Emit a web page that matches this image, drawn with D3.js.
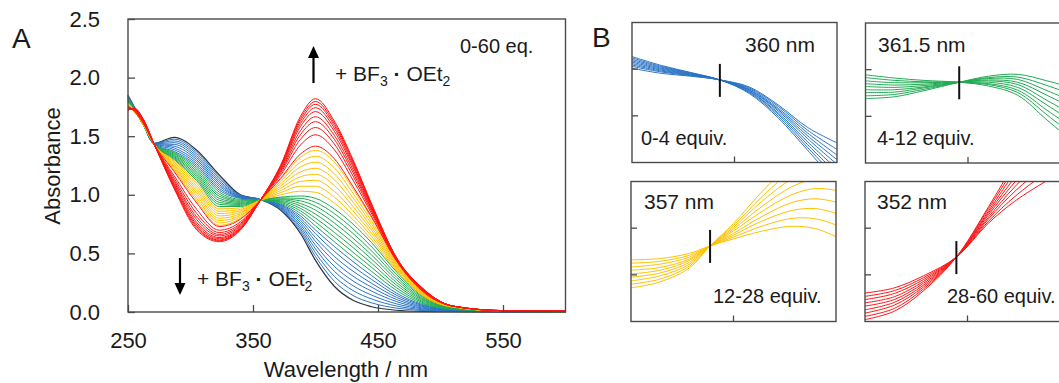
<!DOCTYPE html>
<html>
<head>
<meta charset="utf-8">
<script src="https://cdn.jsdelivr.net/npm/d3@7"></script>
<style>
  body { margin: 0; background: #fff; }
  text { font-family: "Liberation Sans", Arial, sans-serif; fill: #1a1a1a; }
</style>
</head>
<body>
<svg id="chart" width="1059" height="383"></svg>
<script>
// ---- panel A : titration spectra (absorbance vs wavelength) ----
const wavelengths = [250, 255, 262, 271, 287, 305, 323, 340, 356, 372, 388, 400, 415, 430, 445, 465, 485, 510, 550, 600];

// 0 equiv.
const spectrum0 = [1.85, 1.75, 1.61, 1.44, 1.49, 1.38, 1.17, 1.00, 0.96, 0.87, 0.67, 0.44, 0.22, 0.10, 0.045, 0.015, 0.005, 0.002, 0.001, 0];

// 0.5 - 4 equiv.
const blueSpectra = [
  [1.847, 1.749, 1.609, 1.439, 1.475, 1.364, 1.154, 0.996, 0.959, 0.876, 0.689, 0.473, 0.263, 0.141, 0.078, 0.033, 0.013, 0.004, 0.001, 0],
  [1.845, 1.748, 1.608, 1.438, 1.460, 1.348, 1.138, 0.993, 0.959, 0.883, 0.708, 0.505, 0.305, 0.183, 0.111, 0.051, 0.020, 0.006, 0.002, 0],
  [1.843, 1.746, 1.606, 1.436, 1.445, 1.331, 1.121, 0.989, 0.958, 0.889, 0.726, 0.538, 0.348, 0.224, 0.144, 0.069, 0.028, 0.009, 0.002, 0],
  [1.840, 1.745, 1.605, 1.435, 1.430, 1.315, 1.105, 0.985, 0.958, 0.895, 0.745, 0.570, 0.390, 0.265, 0.178, 0.088, 0.035, 0.011, 0.002, 0],
  [1.838, 1.744, 1.604, 1.434, 1.415, 1.299, 1.089, 0.981, 0.957, 0.901, 0.764, 0.603, 0.433, 0.306, 0.211, 0.106, 0.043, 0.013, 0.003, 0],
  [1.835, 1.743, 1.603, 1.433, 1.400, 1.283, 1.073, 0.978, 0.956, 0.908, 0.783, 0.635, 0.475, 0.348, 0.244, 0.124, 0.050, 0.016, 0.003, 0],
  [1.833, 1.741, 1.601, 1.431, 1.385, 1.266, 1.056, 0.974, 0.956, 0.914, 0.801, 0.668, 0.518, 0.389, 0.277, 0.142, 0.058, 0.018, 0.004, 0],
  [1.830, 1.740, 1.600, 1.430, 1.370, 1.250, 1.040, 0.970, 0.955, 0.920, 0.820, 0.700, 0.560, 0.430, 0.310, 0.160, 0.065, 0.020, 0.004, 0]
];

// 5 - 12 equiv.
const greenSpectra = [
  [1.825, 1.738, 1.60, 1.43, 1.361, 1.234, 1.023, 0.961, 0.955, 0.928, 0.841, 0.734, 0.60, 0.47, 0.345, 0.183, 0.074, 0.023, 0.005, 0.000],
  [1.820, 1.735, 1.60, 1.43, 1.353, 1.218, 1.005, 0.953, 0.955, 0.935, 0.863, 0.768, 0.64, 0.51, 0.380, 0.205, 0.084, 0.025, 0.005, 0.001],
  [1.815, 1.733, 1.60, 1.43, 1.344, 1.201, 0.988, 0.944, 0.955, 0.943, 0.884, 0.801, 0.68, 0.55, 0.415, 0.228, 0.093, 0.028, 0.006, 0.001],
  [1.810, 1.730, 1.60, 1.43, 1.335, 1.185, 0.970, 0.935, 0.955, 0.950, 0.905, 0.835, 0.72, 0.59, 0.450, 0.250, 0.103, 0.030, 0.006, 0.002],
  [1.805, 1.728, 1.60, 1.43, 1.326, 1.169, 0.953, 0.926, 0.955, 0.958, 0.926, 0.869, 0.76, 0.63, 0.485, 0.273, 0.112, 0.033, 0.007, 0.002],
  [1.800, 1.725, 1.60, 1.43, 1.318, 1.153, 0.935, 0.918, 0.955, 0.965, 0.948, 0.903, 0.80, 0.67, 0.520, 0.295, 0.121, 0.035, 0.007, 0.002],
  [1.795, 1.723, 1.60, 1.43, 1.309, 1.136, 0.918, 0.909, 0.955, 0.973, 0.969, 0.936, 0.84, 0.71, 0.555, 0.318, 0.131, 0.038, 0.008, 0.003],
  [1.790, 1.720, 1.60, 1.43, 1.300, 1.120, 0.900, 0.900, 0.955, 0.980, 0.990, 0.970, 0.88, 0.75, 0.590, 0.340, 0.140, 0.040, 0.008, 0.003]
];

// 14 - 28 equiv.
const yellowSpectra = [
  [1.786, 1.719, 1.601, 1.43, 1.289, 1.099, 0.880, 0.888, 0.955, 0.999, 1.031, 1.021, 0.93, 0.788, 0.616, 0.351, 0.145, 0.041, 0.008, 0.003],
  [1.783, 1.718, 1.603, 1.43, 1.278, 1.078, 0.860, 0.875, 0.955, 1.018, 1.073, 1.073, 0.98, 0.825, 0.643, 0.363, 0.150, 0.043, 0.009, 0.004],
  [1.779, 1.716, 1.604, 1.43, 1.266, 1.056, 0.840, 0.863, 0.955, 1.036, 1.114, 1.124, 1.03, 0.863, 0.669, 0.374, 0.155, 0.044, 0.009, 0.004],
  [1.775, 1.715, 1.605, 1.43, 1.255, 1.035, 0.820, 0.850, 0.955, 1.055, 1.155, 1.175, 1.08, 0.900, 0.695, 0.385, 0.160, 0.045, 0.009, 0.004],
  [1.771, 1.714, 1.606, 1.43, 1.244, 1.014, 0.800, 0.838, 0.955, 1.074, 1.196, 1.226, 1.13, 0.938, 0.721, 0.396, 0.165, 0.046, 0.009, 0.004],
  [1.768, 1.713, 1.608, 1.43, 1.233, 0.993, 0.780, 0.825, 0.955, 1.093, 1.238, 1.278, 1.18, 0.975, 0.748, 0.408, 0.170, 0.048, 0.010, 0.005],
  [1.764, 1.711, 1.609, 1.43, 1.221, 0.971, 0.760, 0.813, 0.955, 1.111, 1.279, 1.329, 1.23, 1.013, 0.774, 0.419, 0.175, 0.049, 0.010, 0.005],
  [1.760, 1.710, 1.610, 1.43, 1.210, 0.950, 0.740, 0.800, 0.955, 1.130, 1.320, 1.380, 1.28, 1.050, 0.800, 0.430, 0.180, 0.050, 0.010, 0.005]
];

// 28 - 60 equiv.
const redSpectra = [
  [1.757, 1.712, 1.613, 1.43, 1.197, 0.930, 0.729, 0.792, 0.955, 1.140, 1.348, 1.415, 1.308, 1.070, 0.810, 0.432, 0.182, 0.05, 0.010, 0.005],
  [1.748, 1.719, 1.622, 1.43, 1.162, 0.875, 0.698, 0.770, 0.955, 1.166, 1.425, 1.512, 1.385, 1.125, 0.836, 0.439, 0.189, 0.05, 0.011, 0.006],
  [1.742, 1.723, 1.628, 1.43, 1.140, 0.840, 0.678, 0.756, 0.955, 1.183, 1.474, 1.574, 1.434, 1.160, 0.853, 0.443, 0.193, 0.05, 0.011, 0.006],
  [1.738, 1.727, 1.632, 1.43, 1.121, 0.811, 0.662, 0.745, 0.955, 1.197, 1.514, 1.624, 1.474, 1.189, 0.867, 0.447, 0.197, 0.05, 0.011, 0.007],
  [1.734, 1.730, 1.636, 1.43, 1.106, 0.788, 0.649, 0.735, 0.955, 1.208, 1.548, 1.666, 1.508, 1.213, 0.878, 0.450, 0.200, 0.05, 0.011, 0.007],
  [1.730, 1.733, 1.640, 1.43, 1.090, 0.763, 0.635, 0.725, 0.955, 1.220, 1.583, 1.710, 1.543, 1.238, 0.890, 0.453, 0.203, 0.05, 0.012, 0.007],
  [1.727, 1.735, 1.643, 1.43, 1.078, 0.744, 0.625, 0.718, 0.955, 1.229, 1.609, 1.743, 1.569, 1.256, 0.899, 0.455, 0.205, 0.05, 0.012, 0.007],
  [1.724, 1.737, 1.646, 1.43, 1.068, 0.728, 0.615, 0.711, 0.955, 1.237, 1.632, 1.772, 1.592, 1.273, 0.907, 0.457, 0.207, 0.05, 0.012, 0.008],
  [1.722, 1.738, 1.648, 1.43, 1.059, 0.714, 0.608, 0.706, 0.955, 1.243, 1.651, 1.796, 1.611, 1.286, 0.913, 0.458, 0.208, 0.05, 0.012, 0.008],
  [1.720, 1.740, 1.650, 1.43, 1.050, 0.700, 0.600, 0.700, 0.955, 1.250, 1.670, 1.820, 1.630, 1.300, 0.920, 0.460, 0.210, 0.05, 0.012, 0.008]
];

const xTicksA = [250, 350, 450, 550];
const yTicksA = [0, 0.5, 1.0, 1.5, 2.0, 2.5];

// ---- panel B : close-ups of the isosbestic points ----
const insetBlueX = [345, 350, 355, 360, 365, 370, 375, 380];
const insetBlue = [
  [1.027, 1.008, 0.993, 0.977, 0.948, 0.895, 0.826, 0.755],
  [1.024, 1.006, 0.992, 0.977, 0.950, 0.899, 0.832, 0.766],
  [1.021, 1.004, 0.991, 0.977, 0.952, 0.903, 0.838, 0.776],
  [1.018, 1.002, 0.990, 0.977, 0.953, 0.906, 0.844, 0.786],
  [1.015, 1.000, 0.989, 0.977, 0.955, 0.910, 0.851, 0.796],
  [1.012, 0.998, 0.988, 0.977, 0.956, 0.913, 0.857, 0.806],
  [1.009, 0.996, 0.987, 0.977, 0.958, 0.916, 0.863, 0.816],
  [1.006, 0.994, 0.986, 0.977, 0.960, 0.920, 0.869, 0.828],
  [1.002, 0.991, 0.985, 0.977, 0.962, 0.923, 0.875, 0.842]
];

const insetGreenX = [345.5, 350.5, 355.5, 361.5, 366.5, 371.5, 376.5, 380.5];
const insetGreen = [
  [0.989, 0.982, 0.977, 0.973, 0.965, 0.945, 0.892, 0.850],
  [0.983, 0.977, 0.974, 0.973, 0.968, 0.951, 0.903, 0.864],
  [0.976, 0.972, 0.972, 0.973, 0.970, 0.956, 0.913, 0.878],
  [0.970, 0.967, 0.969, 0.973, 0.973, 0.962, 0.924, 0.892],
  [0.964, 0.962, 0.966, 0.973, 0.976, 0.968, 0.934, 0.906],
  [0.957, 0.957, 0.963, 0.973, 0.978, 0.973, 0.945, 0.920],
  [0.951, 0.952, 0.961, 0.973, 0.981, 0.979, 0.955, 0.934],
  [0.944, 0.947, 0.958, 0.973, 0.983, 0.984, 0.966, 0.948],
  [0.938, 0.942, 0.955, 0.973, 0.986, 0.990, 0.976, 0.962]
];

const insetYellowX = [343.5, 348.5, 353.5, 357, 361, 366, 371, 375, 378.5];
const insetYellow = [
  [0.932, 0.935, 0.946, 0.962, 0.977, 0.994, 1.004, 0.999, 0.982],
  [0.925, 0.929, 0.942, 0.962, 0.981, 1.005, 1.021, 1.020, 1.007],
  [0.917, 0.923, 0.938, 0.962, 0.985, 1.016, 1.038, 1.042, 1.032],
  [0.910, 0.916, 0.934, 0.962, 0.989, 1.026, 1.055, 1.063, 1.056],
  [0.902, 0.910, 0.931, 0.962, 0.994, 1.037, 1.072, 1.085, 1.081],
  [0.895, 0.904, 0.927, 0.962, 0.998, 1.048, 1.089, 1.106, 1.106],
  [0.887, 0.898, 0.923, 0.962, 1.002, 1.059, 1.106, 1.127, 1.131],
  [0.880, 0.891, 0.919, 0.962, 1.006, 1.069, 1.123, 1.149, 1.155],
  [0.872, 0.885, 0.915, 0.962, 1.010, 1.080, 1.140, 1.170, 1.180]
];

const insetRedX = [336.4, 341.4, 346.4, 352, 357.5, 362, 367.2, 371.4];
const insetRed = [
  [0.861, 0.872, 0.898, 0.938, 1.011, 1.058, 1.100, 1.130],
  [0.854, 0.866, 0.894, 0.938, 1.015, 1.068, 1.118, 1.154],
  [0.847, 0.860, 0.890, 0.938, 1.020, 1.079, 1.135, 1.178],
  [0.840, 0.853, 0.886, 0.938, 1.024, 1.089, 1.153, 1.201],
  [0.833, 0.847, 0.882, 0.938, 1.029, 1.099, 1.170, 1.225],
  [0.825, 0.841, 0.878, 0.938, 1.033, 1.109, 1.188, 1.249],
  [0.818, 0.835, 0.874, 0.938, 1.037, 1.120, 1.205, 1.273],
  [0.811, 0.828, 0.870, 0.938, 1.042, 1.130, 1.223, 1.296],
  [0.804, 0.822, 0.866, 0.938, 1.046, 1.140, 1.240, 1.320]
];

const isosbestic = [360, 361.5, 357, 352];
const isosbesticAbs = [0.977, 0.973, 0.962, 0.938];
const insetTitles = ['360 nm', '361.5 nm', '357 nm', '352 nm'];
const insetRanges = ['0-4 equiv.', '4-12 equiv.', '12-28 equiv.', '28-60 equiv.'];
const insetTicksY = [0.9, 1.0];

const colors = { dark: '#2c3440', blue: '#2a74c4', green: '#1faa52', yellow: '#ffc000', red: '#ff1414' };

const svg = d3.select('#chart');
const axisColor = '#4a4a4a';

// ================= Panel A =================
const x = d3.scaleLinear().domain([250, 600]).range([128, 565.5]);
const y = d3.scaleLinear().domain([0, 2.5]).range([312, 19]);

const lineA = d3.line()
  .x((d, i) => x(wavelengths[i]))
  .y(d => y(d))
  .curve(d3.curveMonotoneX);

const gA = svg.append('g');

gA.append('path').datum(spectrum0)
  .attr('d', lineA).attr('fill', 'none')
  .attr('stroke', colors.dark).attr('stroke-width', 1.2);

[[blueSpectra, colors.blue], [greenSpectra, colors.green], [yellowSpectra, colors.yellow], [redSpectra, colors.red]]
  .forEach(([set, c]) => {
    gA.append('g').selectAll('path')
      .data(set)
      .enter()
      .append('path')
      .attr('d', lineA)
      .attr('fill', 'none')
      .attr('stroke', c)
      .attr('stroke-width', 1);
  });

const yAxis = d3.axisLeft(y)
  .tickValues(yTicksA)
  .tickFormat(d3.format('.1f'))
  .tickSizeInner(-7)
  .tickSizeOuter(0)
  .tickPadding(28);
const yAxisG = gA.append('g').attr('transform', 'translate(128,0)').call(yAxis);

const xAxis = d3.axisBottom(x)
  .tickValues(xTicksA)
  .tickSizeInner(-7)
  .tickSizeOuter(0)
  .tickPadding(20);
const xAxisG = gA.append('g').attr('transform', 'translate(0,312)').call(xAxis);

[yAxisG, xAxisG].forEach(g => {
  g.attr('font-size', 22).attr('font-family', '"Liberation Sans", Arial, sans-serif');
  g.select('.domain').remove();
  g.selectAll('line').attr('stroke', axisColor).attr('stroke-width', 1.3);
  g.selectAll('text').attr('fill', '#1a1a1a');
});

gA.append('rect')
  .attr('x', 128).attr('y', 19)
  .attr('width', 565.5 - 128).attr('height', 312 - 19)
  .attr('fill', 'none').attr('stroke', axisColor).attr('stroke-width', 1.4);

gA.append('text')
  .attr('transform', 'translate(60,166) rotate(-90)')
  .attr('text-anchor', 'middle')
  .attr('font-size', 22)
  .text('Absorbance');

gA.append('text')
  .attr('x', 346).attr('y', 377)
  .attr('text-anchor', 'middle')
  .attr('font-size', 22)
  .text('Wavelength / nm');

gA.append('text').attr('x', 12).attr('y', 48).attr('font-size', 28).text('A');

gA.append('text').attr('x', 460).attr('y', 53).attr('font-size', 20).text('0-60 eq.');

function reagent(g, px, py) {
  const t = g.append('text').attr('x', px).attr('y', py).attr('font-size', 21);
  t.append('tspan').text('+ BF');
  t.append('tspan').attr('font-size', 14).attr('dy', 5).text('3');
  t.append('tspan').attr('dy', -5).attr('font-weight', 'bold').text(' \u00B7 ');
  t.append('tspan').text('OEt');
  t.append('tspan').attr('font-size', 14).attr('dy', 5).text('2');
}

function arrow(g, ax, yTail, yTip) {
  const dir = yTip < yTail ? -1 : 1;
  g.append('line')
    .attr('x1', ax).attr('x2', ax)
    .attr('y1', yTail).attr('y2', yTip - dir * 10)
    .attr('stroke', '#000').attr('stroke-width', 2.2);
  g.append('path')
    .attr('d', `M${ax},${yTip} L${ax - 5.5},${yTip - dir * 12} L${ax + 5.5},${yTip - dir * 12} Z`)
    .attr('fill', '#000');
}

arrow(gA, 313.5, 83, 46);
reagent(gA, 335, 81);
arrow(gA, 180, 258, 295);
reagent(gA, 197, 286);

// ================= Panel B =================
svg.append('text').attr('x', 592).attr('y', 47).attr('font-size', 28).text('B');

const insets = [
  { left: 632, top: 22.5, xs: insetBlueX, curves: insetBlue, color: colors.blue,
    title: [745, 52], range: [641, 145] },
  { left: 865.5, top: 23, xs: insetGreenX, curves: insetGreen, color: colors.green,
    title: [878, 52], range: [877, 145] },
  { left: 631, top: 181.5, xs: insetYellowX, curves: insetYellow, color: colors.yellow,
    title: [644, 209], range: [713, 303] },
  { left: 865, top: 181.5, xs: insetRedX, curves: insetRed, color: colors.red,
    title: [877, 209], range: [947, 303] }
];

const insetW = 205, insetH = 140, nmSpan = 35;

insets.forEach((cfg, k) => {
  const x0 = cfg.xs[0];
  const xs = d3.scaleLinear().domain([x0, x0 + nmSpan]).range([cfg.left, cfg.left + insetW]);
  const ys = d3.scaleLinear().domain([0.8, 1.1]).range([cfg.top + insetH, cfg.top]);
  const g = svg.append('g');

  const clipId = 'clip' + k;
  g.append('clipPath').attr('id', clipId)
    .append('rect')
    .attr('x', cfg.left).attr('y', cfg.top)
    .attr('width', insetW).attr('height', insetH);

  const line = d3.line()
    .x((d, i) => xs(cfg.xs[i]))
    .y(d => ys(d))
    .curve(d3.curveCatmullRom.alpha(0.5));

  g.append('g').attr('clip-path', `url(#${clipId})`)
    .selectAll('path')
    .data(cfg.curves)
    .enter()
    .append('path')
    .attr('d', line)
    .attr('fill', 'none')
    .attr('stroke', cfg.color)
    .attr('stroke-width', 1);

  // ticks (inward)
  g.selectAll('.ytick')
    .data(insetTicksY)
    .enter()
    .append('line')
    .attr('x1', cfg.left).attr('x2', cfg.left + 6)
    .attr('y1', d => ys(d)).attr('y2', d => ys(d))
    .attr('stroke', axisColor).attr('stroke-width', 1.3);
  const xMid = x0 + nmSpan / 2;
  g.append('line')
    .attr('x1', xs(xMid)).attr('x2', xs(xMid))
    .attr('y1', cfg.top + insetH).attr('y2', cfg.top + insetH - 6)
    .attr('stroke', axisColor).attr('stroke-width', 1.3);

  g.append('rect')
    .attr('x', cfg.left).attr('y', cfg.top)
    .attr('width', insetW).attr('height', insetH)
    .attr('fill', 'none').attr('stroke', axisColor).attr('stroke-width', 1.4);

  // isosbestic marker
  const mx = xs(isosbestic[k]), my = ys(isosbesticAbs[k]);
  g.append('line')
    .attr('x1', mx).attr('x2', mx)
    .attr('y1', my - 16).attr('y2', my + 17)
    .attr('stroke', '#111').attr('stroke-width', 2);

  g.append('text').attr('x', cfg.title[0]).attr('y', cfg.title[1])
    .attr('font-size', 21).text(insetTitles[k]);
  g.append('text').attr('x', cfg.range[0]).attr('y', cfg.range[1])
    .attr('font-size', 20).text(insetRanges[k]);
});
</script>
</body>
</html>
